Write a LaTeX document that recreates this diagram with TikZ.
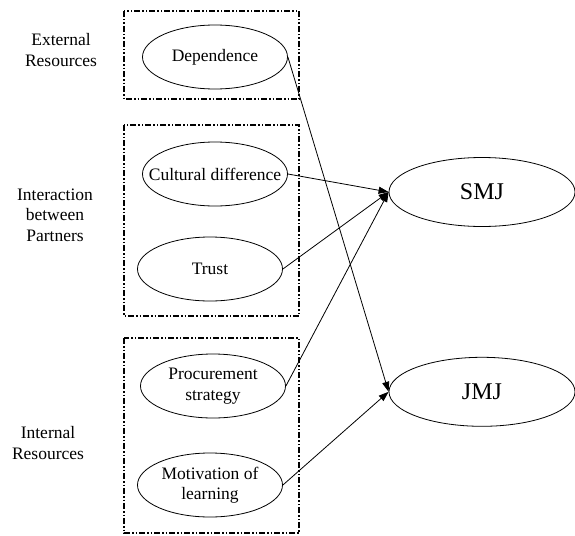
\documentclass[tikz,border=0pt]{standalone}
\usepackage{fontspec}
\setmainfont{Liberation Serif}
\usetikzlibrary{positioning,shapes.geometric,arrows.meta}
\tikzstyle{txt}=[inner sep=0pt, align=center, font={\fontsize{17.5}{20.5}\selectfont}]
\tikzstyle{big}=[inner sep=0pt, font={\fontsize{24}{28}\selectfont}]
\tikzstyle{fac}=[ellipse, draw=black, line width=0.8pt, inner sep=0pt, minimum width=145pt, minimum height=64pt]
\tikzstyle{res}=[ellipse, draw=black, line width=0.8pt, inner sep=0pt, minimum width=186pt, minimum height=69pt]
\tikzstyle{grp}=[draw=black, line width=1.6pt, dash pattern=on 6pt off 2pt on 1.5pt off 2pt on 1.5pt off 2pt]
\tikzstyle{arrow}=[-{Triangle[length=10pt,width=7pt]}, line width=0.8pt]

\begin{document}
\begin{tikzpicture}[x=1pt, y=-1pt]
        \useasboundingbox (0,0) rectangle (575,535);
        % groups
        \draw[grp] (124,11) rectangle (299,99);
        \draw[grp] (124,125) rectangle (299,316);
        \draw[grp] (124,338) rectangle (299,533);
        \node[txt] (ext) at (61,50) {External\\Resources};
        \node[txt] (int) at (55,215) {Interaction\\between\\Partners};
        \node[txt] (inr) at (48,443) {Internal\\Resources};
        % factors
        \node[fac, label={[txt]center:Dependence}] (dep) at (215,57) {};
        \node[fac, label={[txt]center:Cultural difference}] (cul) at (215,174) {};
        \node[fac, label={[txt]center:Trust}] (tru) at (210,269) {};
        \node[fac, label={[txt]center:{Procurement\\strategy}}] (pro) at (213,386) {};
        \node[fac, label={[txt]center:{Motivation of\\learning}}] (mot) at (210,485) {};
        % outcomes
        \node[res, label={[big]center:SMJ}] (smj) at (482,192) {};
        \node[res, label={[big]center:JMJ}, below=130pt of smj] (jmj) {};
        \draw[arrow] (dep.east) -- (jmj.west);
        \draw[arrow] (cul.east) -- (smj.west);
        \draw[arrow] (tru.east) -- (smj.west);
        \draw[arrow] (pro.east) -- (smj.west);
        \draw[arrow] (mot.east) -- (jmj.west);
\end{tikzpicture}
\end{document}
